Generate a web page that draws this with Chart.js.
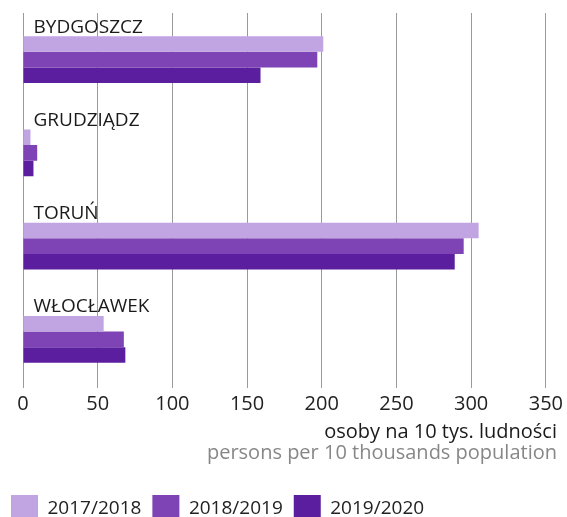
<!DOCTYPE html>
<html><head><meta charset="utf-8">
<style>html,body{margin:0;padding:0;background:#fff}#wrap{width:567px;height:517px;position:relative}</style>
<script src="https://cdn.jsdelivr.net/npm/chart.js@4"></script>
</head><body><div id="wrap"><canvas id="c"></canvas></div>
<script>
const cities = ['BYDGOSZCZ', 'GRUDZIĄDZ', 'TORUŃ', 'WŁOCŁAWEK'];
const seriesNames = ['2017/2018', '2018/2019', '2019/2020'];
const values2017 = [201, 5, 305, 54];
const values2018 = [197, 9.5, 295, 67.5];
const values2019 = [159, 7, 289, 68.5];
const xTicks = [0, 50, 100, 150, 200, 250, 300, 350];
const axisTitlePl = 'osoby na 10 tys. ludności';
const axisTitleEn = 'persons per 10 thousands population';

const FONT = '"Open Sans", "Noto Sans", sans-serif';
const colors = ['#C1A5E3', '#7E43B4', '#5B1E9F'];

const cityLabels = {
  id: 'cityLabels',
  afterDatasetsDraw(chart) {
    const {ctx, chartArea, scales} = chart;
    const y = scales.y;
    ctx.save();
    ctx.font = '19px ' + FONT;
    ctx.fillStyle = '#1a1a1a';
    ctx.textAlign = 'left';
    ctx.textBaseline = 'alphabetic';
    cities.forEach((c, i) => {
      const cy = y.getPixelForValue(i);
      ctx.fillText(c, chartArea.left + 10.5, cy - 27);
    });
    ctx.restore();
  }
};

new Chart(document.getElementById('c'), {
  type: 'bar',
  data: {
    labels: cities,
    datasets: [values2017, values2018, values2019].map((v, i) => ({
      label: seriesNames[i],
      data: v,
      backgroundColor: colors[i],
      borderWidth: 0,
      categoryPercentage: 0.5027,
      barPercentage: 1
    }))
  },
  options: {
    indexAxis: 'y',
    responsive: true,
    maintainAspectRatio: false,
    animation: false,
    layout: {padding: {top: 13, left: 0, right: 10, bottom: -16}},
    scales: {
      x: {
        type: 'linear',
        min: xTicks[0],
        max: xTicks[xTicks.length - 1],
        afterBuildTicks: s => { s.ticks = xTicks.map(v => ({value: v})); },
        grid: {color: '#9a9a9a', lineWidth: 1, tickLength: 2, drawTicks: true},
        border: {display: false},
        ticks: {color: '#222', font: {family: FONT, size: 20, lineHeight: 1.2}, padding: 4, maxRotation: 0, autoSkip: false}
      },
      y: {
        type: 'category',
        display: true,
        grid: {display: false},
        border: {display: false},
        ticks: {display: false},
        afterFit: s => { s.width = 23; }
      },
      yR: {
        type: 'category',
        position: 'right',
        display: true,
        grid: {display: false},
        border: {display: false},
        ticks: {display: false},
        afterFit: s => { s.width = 9; }
      }
    },
    plugins: {
      tooltip: {enabled: false},
      title: {
        display: true, position: 'bottom', align: 'end', text: axisTitlePl,
        color: '#1a1a1a', font: {family: FONT, size: 20, weight: 'normal', lineHeight: 1},
        padding: {top: 2, bottom: 0}, weight: 10, fullSize: true
      },
      subtitle: {
        display: true, position: 'bottom', align: 'end', text: axisTitleEn,
        color: '#878787', font: {family: FONT, size: 20, weight: 'normal', lineHeight: 1},
        padding: {top: 1, bottom: 21}, weight: 20, fullSize: true
      },
      legend: {
        display: true, position: 'bottom', align: 'start', weight: 30, fullSize: true,
        labels: {boxWidth: 27, boxHeight: 28, padding: 11, color: '#222', font: {family: FONT, size: 19}}
      }
    }
  },
  plugins: [cityLabels]
});
</script></body></html>
